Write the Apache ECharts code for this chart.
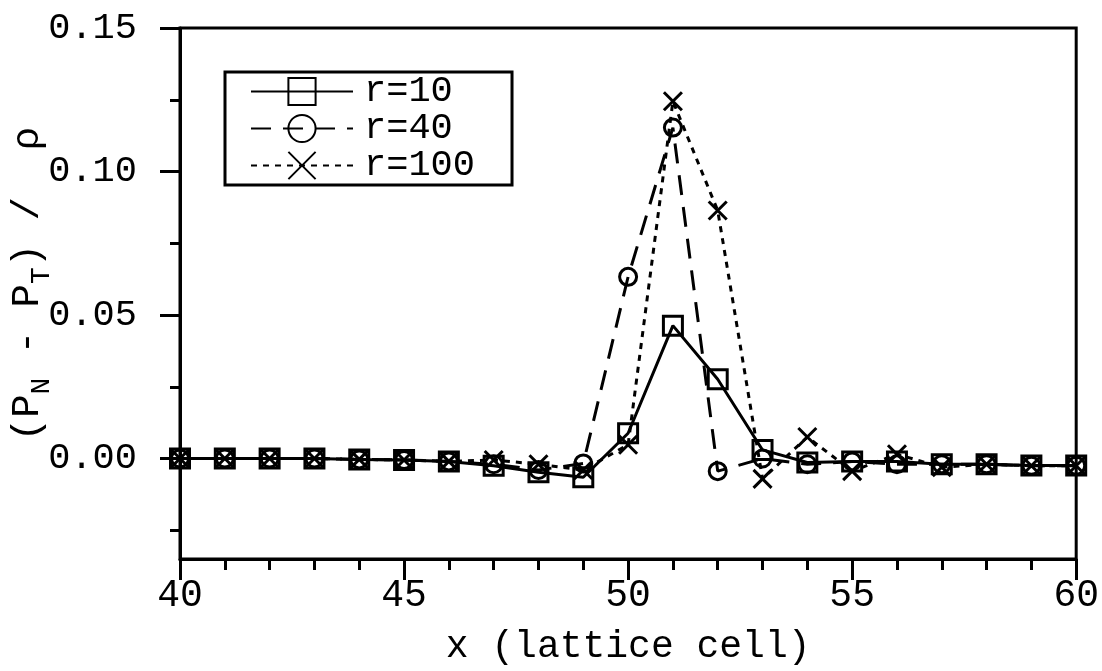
<!DOCTYPE html>
<html>
<head>
<meta charset="utf-8">
<script src="https://cdn.jsdelivr.net/npm/echarts@6/dist/echarts.min.js"></script>
<style>
  html, body { margin: 0; padding: 0; background: #fff; }
  #chart { width: 1102px; height: 671px; }
</style>
</head>
<body>
<div id="chart"></div>
<script>
// lattice cells along x
const cells = [40, 41, 42, 43, 44, 45, 46, 47, 48, 49, 50, 51, 52, 53, 54, 55, 56, 57, 58, 59, 60];

// (P_N - P_T) / rho for each interaction range r
const r10 = [0.000, 0.000, 0.000, 0.000, -0.0003, -0.0005, -0.001, -0.0025, -0.0048, -0.0065,
             0.0088, 0.0463, 0.0276, 0.003, -0.0014, -0.001, -0.001, -0.002, -0.002, -0.0024, -0.0024];
const r40 = [0.000, 0.000, 0.000, 0.000, -0.0003, -0.0005, -0.001, -0.002, -0.004, -0.0017,
             0.0633, 0.1153, -0.0044, 0.000, -0.002, -0.001, -0.002, -0.002, -0.002, -0.0025, -0.0025];
const r100 = [0.000, 0.000, 0.000, 0.000, -0.0003, -0.0005, -0.001, -0.0005, -0.002, -0.004,
              0.0048, 0.1245, 0.0864, -0.0071, 0.0075, -0.0044, 0.0015, -0.003, -0.002, -0.0025, -0.0025];

const seriesNames = ['r=10', 'r=40', 'r=100'];

// axis ticks
const yMajorTicks = [0, 0.05, 0.10, 0.15];
const yMinorTicks = [-0.025, 0.025, 0.075, 0.125];

const FONT = '"Liberation Mono", "DejaVu Sans Mono", monospace';
const INK = '#000';

function pairs(vals) { return cells.map((x, i) => [x, vals[i]]); }

const chart = echarts.init(document.getElementById('chart'), null, { renderer: 'canvas' });

// open "x" marker
const crossPath = 'path://M0,0L10,10M10,0L0,10';

chart.setOption({
  backgroundColor: '#fff',
  animation: false,
  grid: {
    left: 180, right: 24, top: 28, bottom: 100,
    show: true, borderColor: INK, borderWidth: 3, backgroundColor: 'transparent'
  },
  legend: {
    left: 225, top: 72,
    orient: 'vertical',
    data: seriesNames,
    itemWidth: 102, itemHeight: 34, itemGap: 0,
    padding: [1, 37, 1, 25],
    borderColor: INK, borderWidth: 3,
    backgroundColor: '#fff',
    textStyle: { fontFamily: FONT, fontSize: 37, lineHeight: 36, color: INK, padding: [0, 0, 0, 6] }
  },
  xAxis: {
    type: 'value', min: 40, max: 60, interval: 5,
    axisLine: { show: true, onZero: false, lineStyle: { color: INK, width: 3 } },
    axisTick: { show: true, inside: false, length: 21, lineStyle: { color: INK, width: 3 } },
    minorTick: { show: true, splitNumber: 5, length: 11, lineStyle: { color: INK, width: 3 } },
    splitLine: { show: false },
    axisLabel: { fontFamily: FONT, fontSize: 38, color: INK, margin: 18 },
    name: 'x (lattice cell)',
    nameLocation: 'middle', nameGap: 69,
    nameTextStyle: { fontFamily: FONT, fontSize: 38, color: INK }
  },
  yAxis: [
    {
      type: 'value', min: -0.035, max: 0.15, position: 'left',
      axisLine: { show: true, onZero: false, lineStyle: { color: INK, width: 3 } },
      axisTick: { show: true, inside: false, length: 20, customValues: yMajorTicks, lineStyle: { color: INK, width: 3 } },
      splitLine: { show: false },
      axisLabel: {
        customValues: yMajorTicks,
        fontFamily: FONT, fontSize: 37, color: INK, margin: 43,
        formatter: v => v.toFixed(2)
      }
    },
    {
      type: 'value', min: -0.035, max: 0.15, position: 'left', offset: 0,
      axisLine: { show: false },
      axisTick: { show: true, inside: false, length: 10, customValues: yMinorTicks, lineStyle: { color: INK, width: 3 } },
      splitLine: { show: false },
      axisLabel: { show: false }
    }
  ],
  graphic: [{
    type: 'text',
    x: 28, y: 284,
    rotation: Math.PI / 2,
    style: {
      text: '{b|(P}{s|N}{b| - P}{s|T}{b|) /  ρ}',
      align: 'center', verticalAlign: 'middle',
      fill: INK,
      rich: {
        b: { fontFamily: FONT, fontSize: 39, lineHeight: 56, verticalAlign: 'middle', fill: INK },
        s: { fontFamily: FONT, fontSize: 28, lineHeight: 28, verticalAlign: 'bottom', fill: INK }
      }
    }
  }],
  series: [
    {
      name: 'r=10', type: 'line', data: pairs(r10), z: 4,
      symbol: 'rect', symbolSize: 19,
      lineStyle: { color: INK, width: 3, type: 'solid' },
      itemStyle: { color: 'rgba(255,255,255,0)', borderColor: INK, borderWidth: 3 }
    },
    {
      name: 'r=40', type: 'line', data: pairs(r40), z: 3,
      symbol: 'circle', symbolSize: 17,
      lineStyle: { color: INK, width: 3, type: [20, 12] },
      itemStyle: { color: 'rgba(255,255,255,0)', borderColor: INK, borderWidth: 3 }
    },
    {
      name: 'r=100', type: 'line', data: pairs(r100), z: 3,
      symbol: crossPath, symbolSize: 18,
      lineStyle: { color: INK, width: 3, type: [6, 6] },
      itemStyle: { color: 'rgba(255,255,255,0)', borderColor: INK, borderWidth: 3 }
    }
  ]
});
</script>
</body>
</html>
